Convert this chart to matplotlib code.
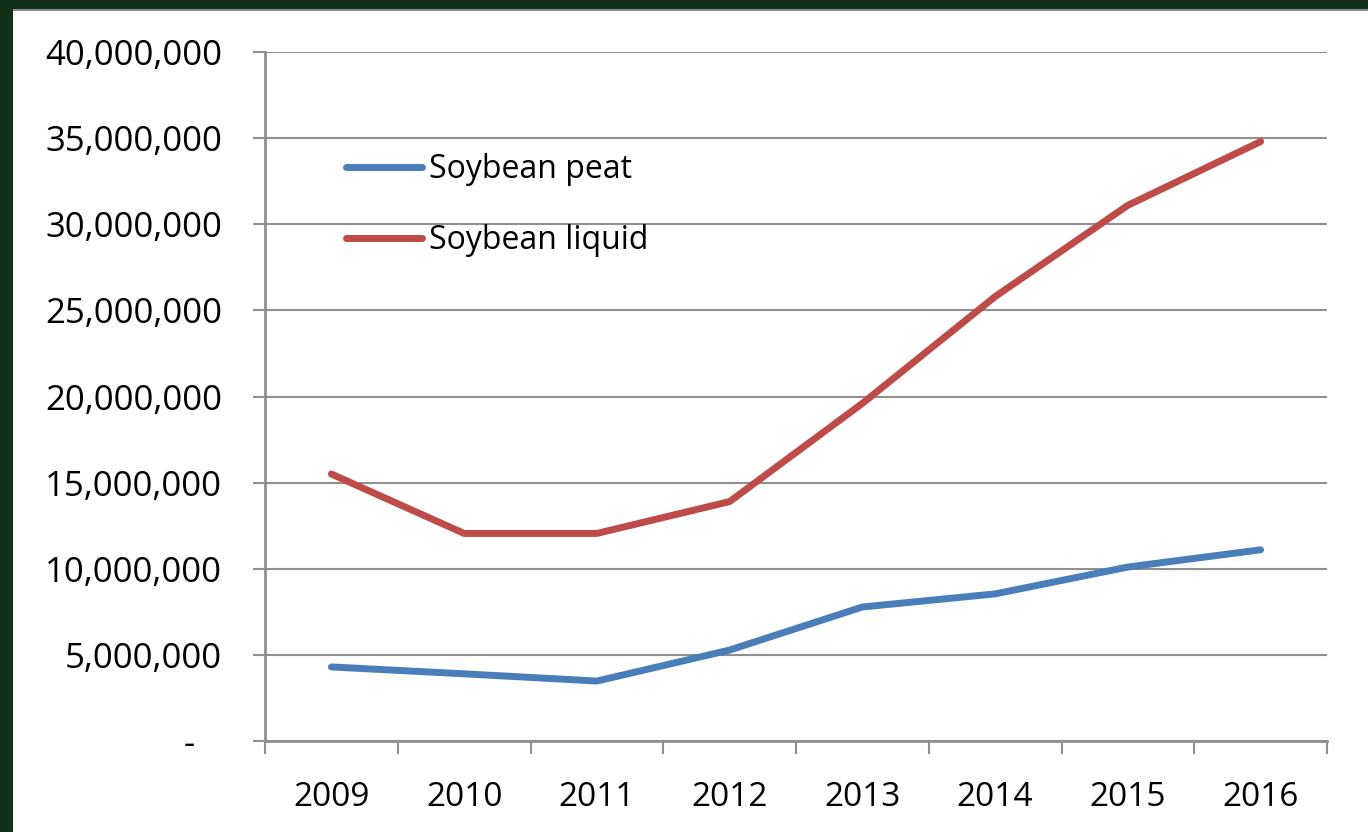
import matplotlib.pyplot as plt
from matplotlib.patches import Rectangle
from matplotlib.ticker import FuncFormatter

years = ['2009', '2010', '2011', '2012', '2013', '2014', '2015', '2016']
soybean_peat = [4.3e6, 3.9e6, 3.48e6, 5.28e6, 7.78e6, 8.54e6, 10.1e6, 11.1e6]
soybean_liquid = [15.5e6, 12.05e6, 12.05e6, 13.9e6, 19.6e6, 25.8e6, 31.1e6, 34.8e6]

plt.rcParams['font.family'] = ['Open Sans', 'DejaVu Sans']

fig = plt.figure(figsize=(13.68, 8.32), dpi=100)
fig.patch.set_facecolor('#10301a')
# white slide panel with gray top edge
fig.patches.append(Rectangle((13 / 1368, 0), 1, 1 - 11 / 832, transform=fig.transFigure,
                             facecolor='white', edgecolor='none', zorder=-10))
fig.patches.append(Rectangle((13 / 1368, 1 - 11 / 832), 1, 2 / 832, transform=fig.transFigure,
                             facecolor='#8a8a8a', edgecolor='none', zorder=-10))

ax = fig.add_axes([265 / 1368, 1 - 741 / 832, (1327 - 265) / 1368, (741 - 52) / 832])
ax.set_facecolor('none')

x = list(range(len(years)))
ax.plot(x, soybean_peat, color='#4a7ebb', lw=5, solid_capstyle='round', label='Soybean peat')
ax.plot(x, soybean_liquid, color='#be4b48', lw=5, solid_capstyle='round', label='Soybean liquid')

ax.set_xlim(-0.5, len(years) - 0.5)
ax.set_ylim(0, 40e6)
ax.set_yticks([i * 5e6 for i in range(9)])
ax.yaxis.set_major_formatter(FuncFormatter(lambda v, p: '-   ' if v == 0 else f'{v:,.0f}'))
ax.grid(axis='y', color='#8f8f8f', lw=1.5)
ax.set_axisbelow(True)

ax.set_xticks([i - 0.5 for i in range(len(years) + 1)])
ax.set_xticklabels([])
ax.set_xticks(x, minor=True)
ax.set_xticklabels(years, minor=True)
ax.tick_params(axis='x', which='minor', length=0, pad=29, labelsize=24)
ax.tick_params(axis='x', which='major', length=9, width=1.5, color='#8f8f8f')
ax.tick_params(axis='y', length=9, width=1.5, color='#8f8f8f', pad=22, labelsize=25)

for s in ['top', 'right']:
    ax.spines[s].set_visible(False)
for s in ['left', 'bottom']:
    ax.spines[s].set_color('#8f8f8f')
    ax.spines[s].set_linewidth(2)

ax.legend(loc='upper left', bbox_to_anchor=(0.049, 0.895), frameon=False, fontsize=23,
          handlelength=2.4, handletextpad=0.2, labelspacing=1.2)

fig.savefig('out.png', dpi=100, facecolor=fig.get_facecolor())
